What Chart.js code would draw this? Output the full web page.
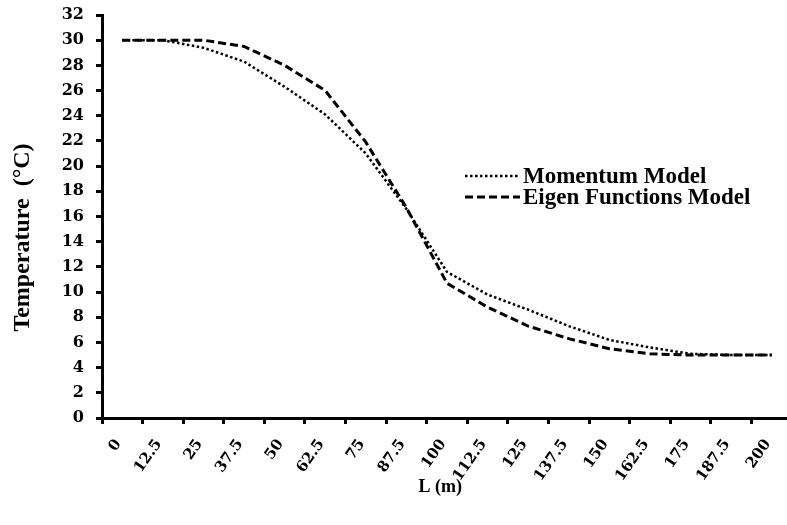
<!DOCTYPE html>
<html>
<head>
<meta charset="utf-8">
<script src="https://cdn.jsdelivr.net/npm/chart.js@4.4.1/dist/chart.umd.min.js"></script>
<style>
  html, body { margin: 0; padding: 0; background: #fff; overflow: hidden; }
  #wrap { width: 800px; height: 525px; }
</style>
</head>
<body>
<div id="wrap"><canvas id="c" width="800" height="525"></canvas></div>
<script>
const categories = ['0','12.5','25','37.5','50','62.5','75','87.5','100','112.5','125','137.5','150','162.5','175','187.5','200'];
const momentumModel = [30, 30, 29.4, 28.3, 26.3, 24.1, 21.0, 16.6, 11.6, 9.8, 8.6, 7.3, 6.2, 5.6, 5.1, 5.0, 5.0];
const eigenModel    = [30, 30, 30, 29.5, 28.0, 26.0, 21.9, 16.7, 10.7, 8.8, 7.3, 6.3, 5.5, 5.1, 5.0, 5.0, 5.0];
const seriesNames = ['Momentum Model', 'Eigen Functions Model'];
const yTitle = 'Temperature  (\u00B0C)';
const xTitle = 'L (m)';

const SERIF = "'Liberation Serif', 'Times New Roman', serif";
const WIDE = "'DejaVu Serif', 'Liberation Serif', serif";

const legendPlugin = {
  id: 'insideLegend',
  afterDraw(chart) {
    const ctx = chart.ctx;
    const items = [
      { name: seriesNames[0], dash: [2.5, 2.5], w: 2.5, y: 176 },
      { name: seriesNames[1], dash: [8, 4], w: 3, y: 197 }
    ];
    ctx.save();
    items.forEach(it => {
      ctx.strokeStyle = '#000';
      ctx.lineWidth = it.w;
      ctx.setLineDash(it.dash);
      ctx.beginPath();
      ctx.moveTo(465, it.y);
      ctx.lineTo(520, it.y);
      ctx.stroke();
      ctx.setLineDash([]);
      ctx.fillStyle = '#000';
      ctx.font = "bold 23px " + SERIF;
      ctx.textBaseline = 'middle';
      ctx.textAlign = 'left';
      ctx.fillText(it.name, 523, it.y + 1);
    });
    ctx.restore();
  }
};

new Chart(document.getElementById('c'), {
  type: 'line',
  data: {
    labels: categories,
    datasets: [
      { label: seriesNames[0], data: momentumModel, borderColor: '#000', borderWidth: 2.5,
        borderDash: [2.5, 2.5], pointRadius: 0, tension: 0, fill: false },
      { label: seriesNames[1], data: eigenModel, borderColor: '#000', borderWidth: 3,
        borderDash: [8, 4], pointRadius: 0, tension: 0, fill: false }
    ]
  },
  options: {
    responsive: false,
    animation: false,
    layout: { padding: { left: 0, right: 8, top: 15, bottom: 0 } },
    plugins: { legend: { display: false }, tooltip: { enabled: false } },
    scales: {
      x: {
        type: 'category',
        offset: true,
        grid: { offset: true, drawOnChartArea: false, drawTicks: true, tickLength: 6, tickWidth: 3, tickColor: '#000' },
        border: { display: true, color: '#000', width: 3 },
        ticks: { color: '#000', font: { family: WIDE, size: 15, weight: 'bold' }, minRotation: 55, maxRotation: 55, padding: 12, labelOffset: -4, autoSkip: false },
        title: { display: true, text: xTitle + '\u00A0\u00A0\u00A0', color: '#000', font: { family: SERIF, size: 18, weight: 'bold' }, padding: { top: 0, bottom: 27 } },
        afterFit(scale) { scale.height = 107; scale.paddingLeft = 0; scale.paddingRight = 0; }
      },
      y: {
        min: 0, max: 32,
        ticks: { stepSize: 2, color: '#000', font: { family: WIDE, size: 16, weight: 'bold' }, padding: 12 },
        grid: { drawOnChartArea: false, drawTicks: true, tickLength: 6, tickWidth: 3, tickColor: '#000' },
        border: { display: true, color: '#000', width: 3 },
        title: { display: true, text: yTitle + '\u00A0\u00A0\u00A0\u00A0\u00A0\u00A0\u00A0', color: '#000', font: { family: SERIF, size: 24, weight: 'bold' }, padding: { top: 8 } },
        afterFit(scale) { scale.width = 102; scale.paddingTop = 0; scale.paddingBottom = 0; }
      }
    }
  },
  plugins: [legendPlugin]
});
</script>
</body>
</html>
